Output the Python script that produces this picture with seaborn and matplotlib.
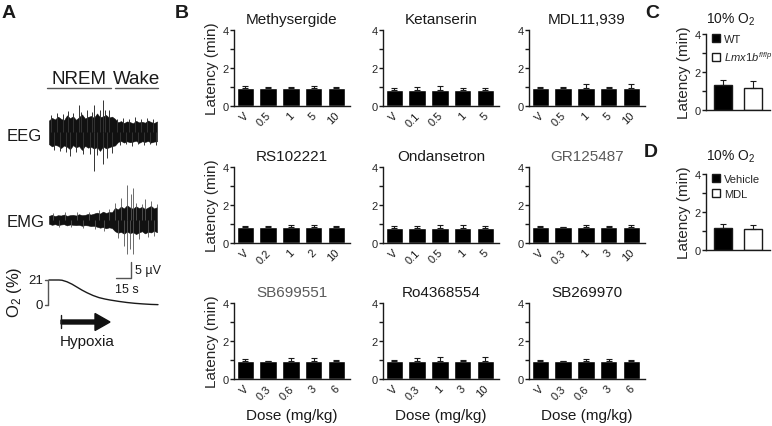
import numpy as np
import matplotlib
matplotlib.use('Agg')
import matplotlib.pyplot as plt
import matplotlib.transforms as mtransforms
import seaborn as sns
from matplotlib.patches import Patch, FancyArrow

# ================= data =================
# panel B: latency (min) per dose, mean and upper SEM
drugs = ['Methysergide', 'Ketanserin', 'MDL11,939',
         'RS102221', 'Ondansetron', 'GR125487',
         'SB699551', 'Ro4368554', 'SB269970']
doses = [['V', '0.5', '1', '5', '10'],
         ['V', '0.1', '0.5', '1', '5'],
         ['V', '0.5', '1', '5', '10'],
         ['V', '0.2', '1', '2', '10'],
         ['V', '0.1', '0.5', '1', '5'],
         ['V', '0.3', '1', '3', '10'],
         ['V', '0.3', '0.6', '3', '6'],
         ['V', '0.3', '1', '3', '10'],
         ['V', '0.3', '0.6', '3', '6']]
latency = [[0.96, 0.95, 0.95, 0.95, 0.95],
           [0.86, 0.86, 0.86, 0.86, 0.86],
           [0.93, 0.93, 0.93, 0.93, 0.93],
           [0.83, 0.83, 0.83, 0.83, 0.83],
           [0.80, 0.80, 0.80, 0.80, 0.80],
           [0.82, 0.82, 0.82, 0.82, 0.82],
           [0.94, 0.94, 0.94, 0.94, 0.94],
           [0.96, 0.96, 0.96, 0.96, 0.96],
           [0.93, 0.93, 0.93, 0.93, 0.93]]
sem = [[0.08, 0.03, 0.03, 0.12, 0.06],
       [0.09, 0.14, 0.18, 0.10, 0.10],
       [0.09, 0.09, 0.23, 0.09, 0.22],
       [0.08, 0.06, 0.14, 0.14, 0.06],
       [0.09, 0.08, 0.14, 0.15, 0.10],
       [0.06, 0.04, 0.14, 0.06, 0.15],
       [0.10, 0.03, 0.16, 0.16, 0.08],
       [0.04, 0.12, 0.20, 0.03, 0.22],
       [0.08, 0.03, 0.13, 0.13, 0.06]]
gray_titles = ['GR125487', 'SB699551']

# panel C / D
c_groups = ['WT', 'Lmx1b']
c_latency = [1.30, 1.17]
c_sem = [0.27, 0.34]
d_groups = ['Vehicle', 'MDL']
d_latency = [1.18, 1.12]
d_sem = [0.18, 0.21]

# panel A: envelope of traces (uV), sampled every 3 s, plus spikes
trace_t = np.arange(0, 109, 3)
eeg_up = [3.6, 4.4, 3.9, 4.8, 4.1, 3.7, 5.2, 4.3, 4.9, 3.8, 4.6, 5.5, 4.2, 4.7, 5.0, 4.4, 5.8, 4.6,
          4.9, 5.3, 4.5, 4.8, 4.1,
          3.0, 3.4, 2.8, 3.3, 3.1, 2.7, 3.5, 3.0, 3.2, 2.9, 3.6, 3.1, 2.8, 3.3]
eeg_lo = [-3.8, -4.5, -4.0, -4.3, -5.0, -4.2, -4.6, -5.4, -4.1, -4.8, -4.4, -5.6, -4.3, -4.9, -4.6,
          -5.2, -4.7, -5.9, -4.5, -5.1, -4.8, -4.4, -4.2,
          -3.1, -2.8, -3.3, -2.9, -3.2, -3.0, -2.7, -3.4, -2.9, -3.1, -2.8, -3.3, -3.0, -2.9]
eeg_spike_t = [2, 5, 8, 11, 14, 17, 19, 21, 24, 27, 30, 32, 34, 38, 41, 43, 45, 45, 48, 51, 54, 54,
               56, 58, 60, 63, 68, 71, 74, 77, 80, 83, 86, 89, 92, 95, 98, 101, 104, 107]
eeg_spike_v = [5.2, -5.6, 5.8, -6.0, 5.5, -6.3, 6.5, -7.5, 6.0, -6.4, 8.5, 6.2, -7.0, 6.8, -6.8,
               6.4, 8.5, -12.2, -7.2, 7.0, 10.0, -10.0, 6.9, -8.0, 7.0, -6.5, 4.2, -4.0, 4.5,
               -3.9, 4.1, -4.3, 4.6, -3.8, 4.2, -4.1, 4.4, -3.9, 4.0, -4.2]
emg_up = [1.3, 1.6, 1.2, 1.5, 1.4, 1.7, 1.3, 1.5, 1.6, 1.4, 1.8, 1.5, 1.6, 1.9, 1.7, 2.0,
          2.3, 2.0, 2.6, 2.2, 2.5, 2.4,
          3.8, 3.3, 4.2, 3.6, 4.6, 3.9, 3.5, 4.3, 3.7, 4.1, 3.4, 3.9, 4.4, 3.6, 4.0]
emg_lo = [-1.2, -1.5, -1.3, -1.6, -1.4, -1.3, -1.7, -1.4, -1.5, -1.6, -1.5, -1.8, -1.6, -1.7, -1.9, -1.8,
          -2.1, -2.4, -2.2, -2.6, -2.3, -2.5,
          -3.5, -4.0, -3.7, -4.3, -3.6, -4.1, -3.8, -4.4, -3.9, -3.5, -4.2, -3.7, -3.9, -3.4, -3.8]
emg_spike_t = [4, 10, 16, 22, 28, 34, 40, 46, 50, 55, 60, 66, 69, 72, 75, 78, 78, 81, 82, 84, 84,
               87, 90, 93, 96, 99, 102, 105, 108]
emg_spike_v = [2.2, -2.3, 2.4, -2.2, 2.5, -2.6, 2.6, -2.8, 3.2, -3.4, 3.5, 5.2, -5.5, 7.0, -8.0,
               11.0, -10.5, -9.0, 8.0, 10.0, -10.5, 5.4, -6.0, 5.0, 6.5, -5.2, 6.0, -4.9, 5.1]
o2_t = [0, 5, 10, 13, 18, 23, 28, 33, 38, 44, 50, 56, 61, 70, 78, 86, 94, 102, 109]
o2_pct = [21, 21, 21, 20.8, 19.5, 17.5, 15, 12.5, 10.3, 8, 6.2, 5, 4.2, 3, 2.1, 1.4, 0.9, 0.5, 0.3]
# =========================================

sns.set_style('ticks')
plt.rcParams['font.family'] = 'Liberation Sans'
plt.rcParams['mathtext.fontset'] = 'custom'
plt.rcParams['mathtext.rm'] = 'Liberation Sans'
plt.rcParams['mathtext.it'] = 'Liberation Sans:italic'
plt.rcParams['axes.linewidth'] = 1.0

W, H = 772, 427
INK = '#1a1a1a'
fig = plt.figure(figsize=(W / 100, H / 100), dpi=100)


def px_axes(left, top, right, bottom):
    return fig.add_axes([left / W, 1 - bottom / H, (right - left) / W, (bottom - top) / H])


def px_text(x, y, s, **kw):
    fig.text(x / W, 1 - y / H, s, **kw)


def style_latency_axis(ax):
    ax.set_ylim(0, 4)
    ax.set_yticks([0, 1, 2, 3, 4])
    ax.set_yticklabels(['0', '', '2', '', '4'])
    ax.tick_params(axis='y', length=3, width=1, pad=1, labelsize=8, color=INK)
    for s in ['left', 'bottom']:
        ax.spines[s].set_color(INK)
    sns.despine(ax=ax)


# ---------- panel B ----------
col_left = [234, 383, 529]
row_top = [31, 168, 304]
for i, drug in enumerate(drugs):
    r, c = divmod(i, 3)
    ax = px_axes(col_left[c], row_top[r], col_left[c] + 116, row_top[r] + 76)
    sns.barplot(x=doses[i], y=latency[i], color='black', width=0.76, errorbar=None,
                saturation=1, ax=ax)
    ax.errorbar(np.arange(len(doses[i])), latency[i], yerr=[np.zeros(len(sem[i])), sem[i]],
                fmt='none', ecolor=INK, elinewidth=0.8, capsize=2, capthick=0.8)
    ax.set_xlim(-0.5, 4.6)
    style_latency_axis(ax)
    # dose labels, slanted at 45 degrees under each bar
    ax.set_xticks([])
    trans = mtransforms.blended_transform_factory(ax.transData, ax.transAxes)
    off = mtransforms.ScaledTranslation(5 / 100, -4 / 100, fig.dpi_scale_trans)
    for k, lab in enumerate(doses[i]):
        ax.text(k, 0, lab, rotation=45, ha='right', va='top', rotation_mode='default',
                fontsize=8, color=INK, transform=trans + off)
    tcolor = '#5a5a5a' if drug in gray_titles else INK
    ax.set_title(drug, fontsize=11, pad=5, color=tcolor)
    ax.set_ylabel('Latency (min)' if c == 0 else '', fontsize=11, labelpad=2)
    ax.set_xlabel('')
    if r == 2:
        ax.text(0.5, -0.47, 'Dose (mg/kg)', transform=ax.transAxes, ha='center', va='center',
                fontsize=11, color=INK)


# ---------- panels C and D ----------
def small_panel(top, groups, vals, errs, labels):
    ax = px_axes(706, top, 770, top + 76)
    sns.barplot(x=groups, y=vals, hue=groups, palette=['black', 'white'], width=0.62,
                edgecolor=INK, linewidth=1, errorbar=None, saturation=1, legend=False, ax=ax)
    ax.errorbar(np.arange(len(groups)), vals, yerr=[np.zeros(len(errs)), errs],
                fmt='none', ecolor=INK, elinewidth=0.8, capsize=2, capthick=0.8)
    ax.set_xlim(-0.6, 1.6)
    style_latency_axis(ax)
    ax.set_xticks([])
    ax.set_xlabel('')
    ax.set_ylabel('Latency (min)', fontsize=11, labelpad=2)
    handles = [Patch(facecolor='black', edgecolor=INK, lw=1),
               Patch(facecolor='white', edgecolor=INK, lw=1)]
    ax.legend(handles, labels, loc='upper left', bbox_to_anchor=(0.0, 1.07), frameon=False,
              fontsize=8, handlelength=0.75, handleheight=0.75, handletextpad=0.35,
              labelspacing=0.45, borderaxespad=0.1)
    return ax


small_panel(35, c_groups, c_latency, c_sem, ['WT', r'$\mathit{Lmx1b}^{\mathit{f/f/p}}$'])
small_panel(175, d_groups, d_latency, d_sem, d_groups)
px_text(731, 20, r'10% O$_2$', fontsize=10, ha='center', va='center', color=INK)
px_text(731, 157, r'10% O$_2$', fontsize=10, ha='center', va='center', color=INK)

# ---------- panel A ----------
axa = fig.add_axes([0, 0, 200 / W, 1])
axa.set_xlim(0, 200)
axa.set_ylim(H, 0)
axa.axis('off')
x0, gain = 49, 3.2

# EEG
eeg_c = 133
axa.fill_between(x0 + trace_t, eeg_c - gain * np.array(eeg_up), eeg_c - gain * np.array(eeg_lo),
                 color='#111111', lw=0.4)
axa.vlines(x0 + np.array(eeg_spike_t), eeg_c, eeg_c - gain * np.array(eeg_spike_v),
           color='#333333', lw=0.7)
# EMG
emg_c = 221
axa.fill_between(x0 + trace_t, emg_c - gain * np.array(emg_up), emg_c - gain * np.array(emg_lo),
                 color='#111111', lw=0.4)
axa.vlines(x0 + np.array(emg_spike_t), emg_c, emg_c - gain * np.array(emg_spike_v),
           color='#555555', lw=0.6)
# O2 trace: 21% at y=281, 0% at y=306
o2_top, o2_bot = 281, 306
axa.plot(x0 + np.array(o2_t), o2_bot - (o2_bot - o2_top) / 21 * np.array(o2_pct),
         color=INK, lw=1)
axa.plot([48, 48], [o2_top, o2_bot], color='#555555', lw=1)
axa.plot([45, 48], [o2_top, o2_top], color='#555555', lw=1)
axa.plot([45, 48], [o2_bot, o2_bot], color='#555555', lw=1)
axa.text(43, o2_top, '21', ha='right', va='center', fontsize=9.5, color=INK)
axa.text(43, o2_bot, '0', ha='right', va='center', fontsize=9.5, color=INK)
axa.text(15, 292, r'O$_2$ (%)', rotation=90, ha='center', va='center', fontsize=12, color=INK)

# state labels
axa.text(79, 79, 'NREM', ha='center', va='center', fontsize=13.5, color=INK)
axa.text(137, 79, 'Wake', ha='center', va='center', fontsize=13.5, color=INK)
axa.plot([47, 111], [89, 89], color='#555555', lw=1)
axa.plot([115, 158], [89, 89], color='#555555', lw=1)
axa.text(7, 137, 'EEG', ha='left', va='center', fontsize=12, color=INK)
axa.text(7, 223, 'EMG', ha='left', va='center', fontsize=12, color=INK)

# scale bar
axa.plot([116, 131, 131], [279, 279, 263], color='#555555', lw=1)
axa.text(135, 271, '5 µV', ha='left', va='center', fontsize=9, color=INK)
axa.text(115, 290, '15 s', ha='left', va='center', fontsize=9, color=INK)

# hypoxia arrow
axa.plot([61, 61], [316, 329], color=INK, lw=1)
axa.add_patch(FancyArrow(61, 323, 49, 0, width=4, head_width=17, head_length=15,
                         length_includes_head=True, color='#111111'))
axa.text(60, 342, 'Hypoxia', ha='left', va='center', fontsize=11, color=INK)

# panel letters
for x, y, s in [(2, 14, 'A'), (175, 14, 'B'), (645, 14, 'C'), (644, 153, 'D')]:
    px_text(x, y, s, fontsize=14, fontweight='bold', ha='left', va='center', color=INK)

plt.savefig('out.png', dpi=100)
